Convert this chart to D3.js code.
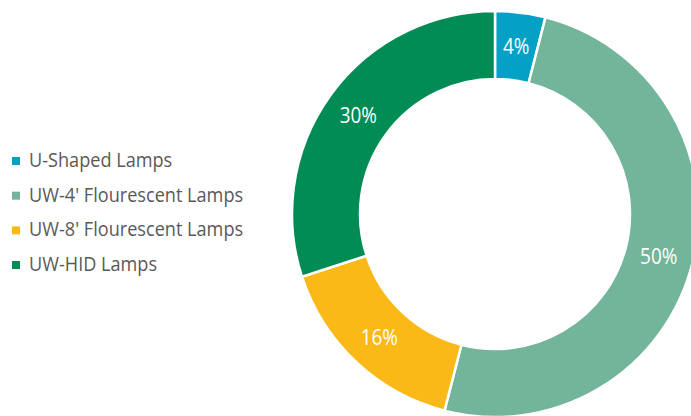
<!DOCTYPE html>
<html>
<head>
<meta charset="utf-8">
<script src="https://cdn.jsdelivr.net/npm/d3@7"></script>
<style>
  html, body { margin: 0; padding: 0; background: #ffffff; }
  svg { display: block; }
</style>
</head>
<body>
<svg id="chart" width="691" height="416"></svg>
<script>
// Share of lamp types (percent)
const categories = ["U-Shaped Lamps", "UW-4' Flourescent Lamps", "UW-8' Flourescent Lamps", "UW-HID Lamps"];
const shares = [4, 50, 16, 30];
const colors = ["#05a0c6", "#72b59a", "#fbb918", "#028c55"];

const W = 691, H = 416;
const cx = 495, cy = 214;
const outerR = 203, innerR = 135;
const labelCondense = 0.86;   // narrow the sans face horizontally
const legendCondense = 0.93;

const svg = d3.select("#chart");
const data = categories.map((c, i) => ({ name: c, value: shares[i], color: colors[i] }));

const pie = d3.pie().value(d => d.value).sort(null);
const arc = d3.arc().innerRadius(innerR).outerRadius(outerR);
const arcs = pie(data);

const g = svg.append("g").attr("transform", `translate(${cx},${cy})`);

g.selectAll("path.slice")
  .data(arcs)
  .join("path")
  .attr("class", "slice")
  .attr("d", arc)
  .attr("fill", d => d.data.color)
  .attr("stroke", "#ffffff")
  .attr("stroke-width", 2.5)
  .attr("stroke-linejoin", "miter");

// percentage labels at each slice centroid
g.selectAll("text.pct")
  .data(arcs)
  .join("text")
  .attr("class", "pct")
  .attr("transform", d => {
    const [x, y] = arc.centroid(d);
    return `translate(${x},${y + 8}) scale(${labelCondense},1)`;
  })
  .attr("text-anchor", "middle")
  .attr("font-family", "'Open Sans', sans-serif")
  .attr("font-size", 22)
  .attr("fill", "#ffffff")
  .text(d => `${d.data.value}%`);

// legend
const legendY = d3.scalePoint().domain(categories).range([167, 271]);
const legend = svg.append("g");
const rows = legend.selectAll("g.row")
  .data(data)
  .join("g")
  .attr("class", "row")
  .attr("transform", d => `translate(0,${legendY(d.name)})`);

rows.append("rect")
  .attr("x", 12)
  .attr("y", -10)
  .attr("width", 8)
  .attr("height", 8)
  .attr("fill", d => d.color);

rows.append("text")
  .attr("transform", `translate(29,0) scale(${legendCondense},1)`)
  .attr("font-family", "'Open Sans', sans-serif")
  .attr("font-size", 19.5)
  .attr("fill", "#595959")
  .text(d => d.name);
</script>
</body>
</html>
